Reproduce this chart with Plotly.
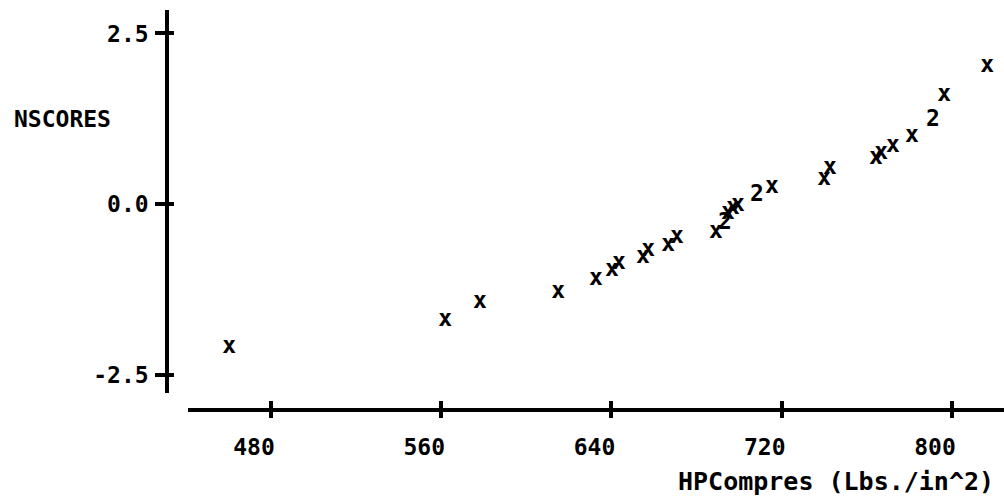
import plotly.graph_objects as go

# Data (character-plot style normal scores plot)
hp_compres = [460.3, 561.8, 578.2, 614.9, 632.7, 640.2, 643.5, 654.8, 657.2, 666.6,
              670.8, 689.1, 693.3, 694.7, 697.1, 699.4, 708.4, 715.4, 739.9, 742.7,
              764.3, 766.7, 772.3, 781.2, 791.1, 796.3, 816.5]
nscores = [-2.094, -1.70, -1.435, -1.29, -1.10, -0.966, -0.864, -0.776, -0.673, -0.600,
           -0.483, -0.41, -0.278, -0.132, -0.059, -0.015, 0.132, 0.249, 0.366, 0.527,
           0.673, 0.747, 0.849, 0.996, 1.23, 1.596, 2.02]
symbols = ["x", "x", "x", "x", "x", "x", "x", "x", "x", "x",
           "x", "x", "2", "x", "x", "x", "2", "x", "x", "x",
           "x", "x", "x", "x", "2", "x", "x"]

x_ticks = [480, 560, 640, 720, 800]
y_ticks = [-2.5, 0.0, 2.5]
y_tick_labels = ["-2.5", "0.0", "2.5"]

W, H = 1004, 502
FONT = "DejaVu Sans Mono"
FS = 23

x_range = [441.0, 824.45]
y_range = [-2.757, 2.851]

x_dom = [188 / W, 1.0]
y_dom = [(H - 392.5) / H, (H - 9.5) / H]
x_pos = 1 - 410 / H
y_pos = 166.5 / W

font_main = dict(family=FONT, size=FS, color="black", weight="bold")

fig = go.Figure()
fig.add_trace(go.Scatter(
    x=hp_compres, y=nscores, mode="text", text=symbols,
    textposition="middle center", cliponaxis=False,
    textfont=font_main,
    hoverinfo="skip", showlegend=False))
# helper trace for the overlay tick axes
fig.add_trace(go.Scatter(x=[None], y=[None], xaxis="x2", yaxis="y2",
                         mode="markers", showlegend=False, hoverinfo="skip"))

axis_common = dict(showgrid=False, zeroline=False, fixedrange=True)

fig.update_layout(
    width=W, height=H,
    margin=dict(l=0, r=0, t=0, b=0),
    paper_bgcolor="white", plot_bgcolor="white",
    xaxis=dict(**axis_common, domain=x_dom, range=x_range, anchor="free", position=x_pos,
               showline=True, linecolor="black", linewidth=3.5,
               tickmode="array", tickvals=x_ticks, ticktext=[str(v) for v in x_ticks],
               ticks="outside", ticklen=6, tickwidth=3.5, tickcolor="black",
               ticklabelshift=-17, ticklabelstandoff=10,
               tickfont=font_main, automargin=False),
    yaxis=dict(**axis_common, domain=y_dom, range=y_range, anchor="free", position=y_pos,
               showline=True, linecolor="black", linewidth=3.5,
               tickmode="array", tickvals=y_ticks, ticktext=y_tick_labels,
               ticks="outside", ticklen=9.5, tickwidth=3.5, tickcolor="black",
               ticklabelstandoff=2,
               tickfont=font_main, automargin=False),
    xaxis2=dict(**axis_common, domain=x_dom, range=x_range, overlaying="x", anchor="free",
                position=x_pos, showline=False, tickmode="array", tickvals=x_ticks,
                ticks="inside", ticklen=9, tickwidth=3.5, tickcolor="black",
                showticklabels=False, automargin=False),
    yaxis2=dict(**axis_common, domain=y_dom, range=y_range, overlaying="y", anchor="free",
                position=y_pos, side="left", showline=False, tickmode="array",
                tickvals=y_ticks, ticks="inside", ticklen=6.5, tickwidth=3.5,
                tickcolor="black", showticklabels=False, automargin=False),
    annotations=[
        dict(text="NSCORES", xref="paper", yref="paper", x=12 / W, y=1 - 118.5 / H,
             xanchor="left", yanchor="middle", showarrow=False, font=font_main),
        dict(text="HPCompres (Lbs./in^2)", xref="paper", yref="paper", x=996 / W,
             y=1 - 481.5 / H, xanchor="right", yanchor="middle", showarrow=False,
             font=dict(family=FONT, size=25, color="black", weight="bold")),
    ],
)

fig.write_html("out.html")
